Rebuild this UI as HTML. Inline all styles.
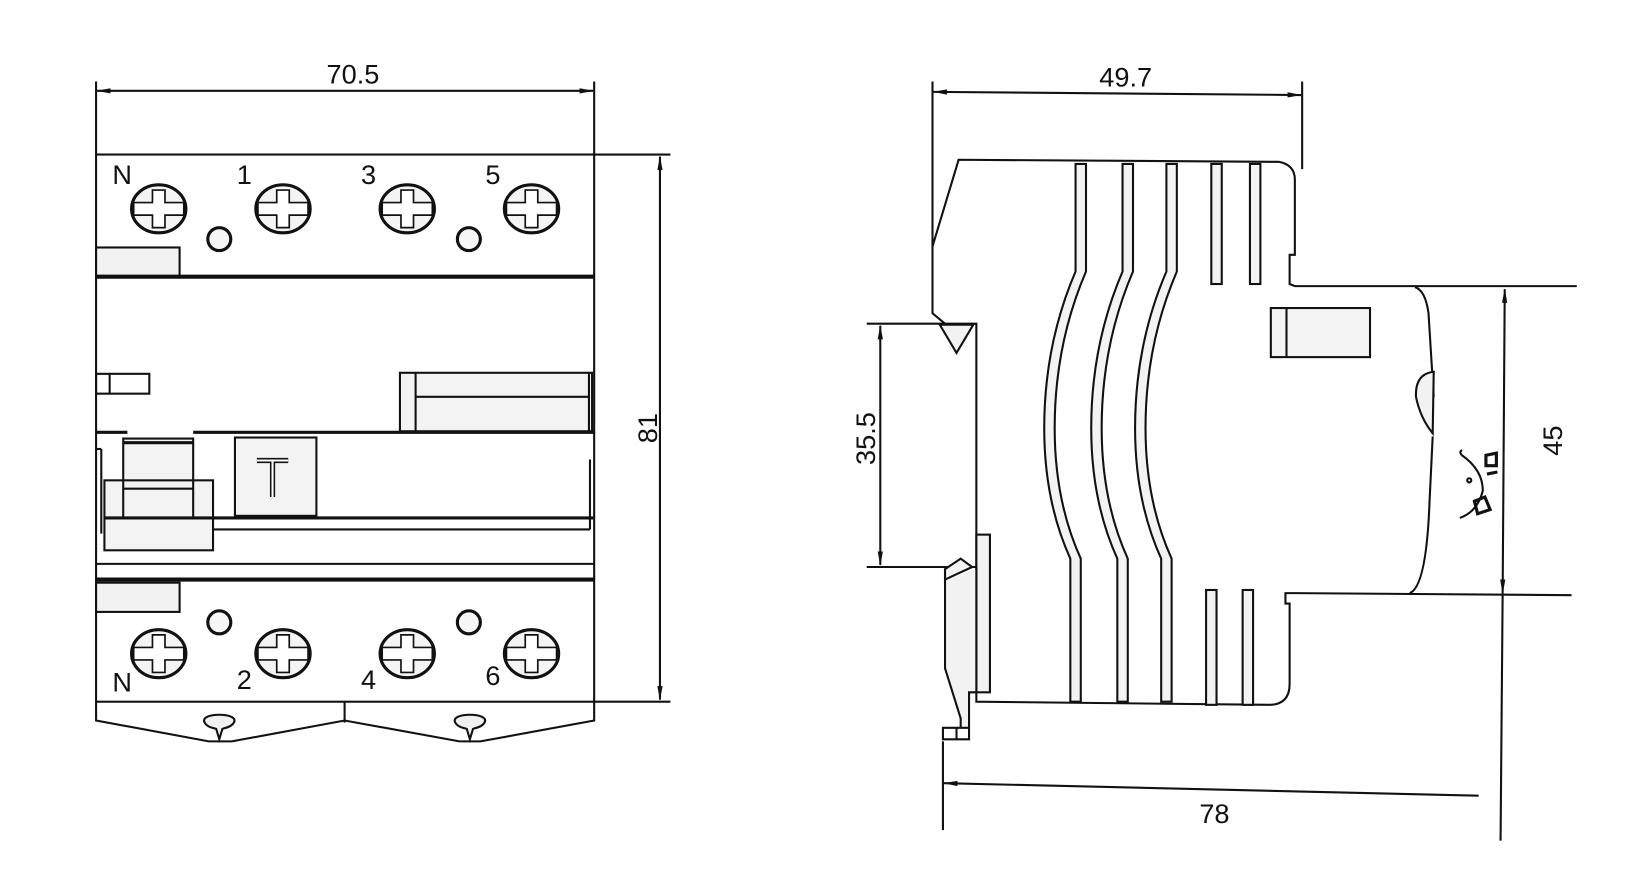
<!DOCTYPE html>
<html><head><meta charset="utf-8"><style>
html,body{margin:0;padding:0;background:#fff;}
svg{display:block;}
text{font-family:"Liberation Sans",sans-serif;fill:#111;}
</style></head><body>
<svg width="1629" height="874" viewBox="0 0 1560 837" preserveAspectRatio="none" xmlns="http://www.w3.org/2000/svg">
<defs>
<marker id="a" markerWidth="14" markerHeight="8" refX="13" refY="4" orient="auto-start-reverse" markerUnits="userSpaceOnUse">
<path d="M0,1.5 L14,4 L0,6.5 Z" fill="#111"/></marker>
</defs>
<g fill="none" stroke="#111" stroke-width="2">
<line x1="92" y1="78" x2="92" y2="148"/>
<line x1="569" y1="78" x2="569" y2="148"/>
<line x1="93" y1="87" x2="568" y2="87" marker-start="url(#a)" marker-end="url(#a)"/>
<line x1="569" y1="148" x2="642" y2="148"/>
<line x1="569" y1="672" x2="642" y2="672"/>
<line x1="632" y1="150" x2="632" y2="670" marker-start="url(#a)" marker-end="url(#a)"/>
<rect x="92" y="148" width="477" height="524"/>
<rect x="92" y="237" width="80" height="28" fill="#f2f2f2"/>
<line x1="92" y1="265" x2="569" y2="265" stroke-width="4"/>
<g stroke-width="3" fill="#f4f4f4">
<ellipse cx="152" cy="200" rx="26" ry="23"/><ellipse cx="271" cy="200" rx="26" ry="23"/>
<ellipse cx="390" cy="200" rx="26" ry="23"/><ellipse cx="509" cy="200" rx="26" ry="23"/>
<ellipse cx="152" cy="626" rx="26" ry="23"/><ellipse cx="271" cy="626" rx="26" ry="23"/>
<ellipse cx="390" cy="626" rx="26" ry="23"/><ellipse cx="509" cy="626" rx="26" ry="23"/>
<ellipse cx="210" cy="229" rx="11" ry="11" fill="#f6f6f6"/><ellipse cx="449" cy="229" rx="11" ry="11" fill="#f6f6f6"/>
<ellipse cx="210" cy="596" rx="11" ry="11" fill="#f6f6f6"/><ellipse cx="449" cy="596" rx="11" ry="11" fill="#f6f6f6"/>
</g>
<g stroke-width="1.6" fill="#fff">
<path id="c" d="M146,182h12v12h18v12h-18v12h-12v-12h-18v-12h18z"/>
<path d="M146,182h12v12h18v12h-18v12h-12v-12h-18v-12h18z" transform="translate(119,0)"/>
<path d="M146,182h12v12h18v12h-18v12h-12v-12h-18v-12h18z" transform="translate(238,0)"/>
<path d="M146,182h12v12h18v12h-18v12h-12v-12h-18v-12h18z" transform="translate(357,0)"/>
<path d="M146,182h12v12h18v12h-18v12h-12v-12h-18v-12h18z" transform="translate(0,426)"/>
<path d="M146,182h12v12h18v12h-18v12h-12v-12h-18v-12h18z" transform="translate(119,426)"/>
<path d="M146,182h12v12h18v12h-18v12h-12v-12h-18v-12h18z" transform="translate(238,426)"/>
<path d="M146,182h12v12h18v12h-18v12h-12v-12h-18v-12h18z" transform="translate(357,426)"/>
</g>
<rect x="92" y="358" width="51" height="19"/><line x1="105" y1="358" x2="105" y2="377"/>
<rect x="383" y="357" width="184" height="56" fill="#f3f3f3"/>
<line x1="398" y1="357" x2="398" y2="413"/><line x1="398" y1="380" x2="564" y2="380"/>
<line x1="564" y1="357" x2="564" y2="413"/>
<line x1="92" y1="414" x2="122" y2="414" stroke-width="3"/>
<line x1="185" y1="414" x2="569" y2="414" stroke-width="3"/>
<rect x="225" y="419" width="78" height="75" fill="#f3f3f3"/>
<path d="M246,441h30M261,441v35" stroke-width="5"/>
<path d="M246,441h30M261,441v35" stroke="#fff" stroke-width="2"/>
<rect x="118" y="420" width="67" height="75" fill="#f3f3f3"/>
<line x1="118" y1="424" x2="185" y2="424" stroke-width="3"/>
<rect x="100" y="460" width="104" height="67" fill="#f3f3f3"/>
<line x1="118" y1="460" x2="118" y2="496"/><line x1="185" y1="460" x2="185" y2="496"/>
<line x1="118" y1="468" x2="185" y2="468"/>
<line x1="100" y1="496" x2="569" y2="496" stroke-width="3"/>
<line x1="204" y1="507" x2="565" y2="507"/>
<line x1="565" y1="440" x2="565" y2="507"/>
<line x1="92" y1="430" x2="97" y2="430"/><line x1="97" y1="430" x2="97" y2="511"/>
<line x1="92" y1="540" x2="569" y2="540"/>
<line x1="92" y1="555" x2="569" y2="555" stroke-width="4"/>
<rect x="92" y="558" width="80" height="28" fill="#f2f2f2"/>
<path d="M92,672 L92,690 L200,710 L222,710 L330,690 L440,710 L460,710 L569,690 L569,672"/>
<line x1="330" y1="672" x2="330" y2="692"/>
<path d="M196,692 C190,682 230,682 224,692 C222,696 216,697 213,698 L210,708 L207,698 C203,697 198,696 196,692Z" fill="#f0f0f0"/>
<path d="M436,692 C430,682 470,682 464,692 C462,696 456,697 453,698 L450,708 L447,698 C443,697 438,696 436,692Z" fill="#f0f0f0"/>

<line x1="893" y1="78" x2="893" y2="236"/>
<line x1="1247" y1="78" x2="1247" y2="162"/>
<line x1="894" y1="88" x2="1246" y2="91" marker-start="url(#a)" marker-end="url(#a)"/>
<path d="M893,236 L918,153 L1225,155 Q1240,158 1240,172 L1240,244 L1235,244 L1235,272 L1240,274 L1510,274"/>
<path d="M893,236 L893,300 L905,310 L830,310"/>
<path d="M905,310 L935,310 L935,543 L830,543"/>
<path d="M900,311 L932,311 L916,338 Z" fill="#f2f2f2"/>
<rect x="935" y="512" width="13" height="151" fill="#f2f2f2"/>
<path d="M906,555 L935,545 L935,663 L928,663 L928,697 L920,697 L920,688 L905,640 Z" fill="#f2f2f2" stroke="none"/>
<path d="M905,545 L905,640 L920,688 L920,697 M935,543 L935,663 L928,663 L928,708 L903,708 L903,697 L928,697" />
<path d="M905,545 L920,535 L931,543 L905,555 Z" fill="#f2f2f2"/>
<line x1="916" y1="697" x2="916" y2="708"/>
<line x1="903" y1="710" x2="903" y2="795"/>
<path d="M935,663 L935,672 L1215,675 Q1235,675 1235,655 L1235,578 L1231,578 L1231,568 L1240,568 L1505,570"/>
<g fill="#f3f3f3">
<path d="M1030,157 L1030,260 Q1000,330 1000,410 Q1000,480 1025,535 L1025,672 L1035,672 L1035,535 Q1010,480 1010,410 Q1010,330 1040,260 L1040,157 Z"/>
<path d="M1075,157 L1075,260 Q1045,330 1045,410 Q1045,480 1070,535 L1070,672 L1080,672 L1080,535 Q1055,480 1055,410 Q1055,330 1085,260 L1085,157 Z"/>
<path d="M1117,157 L1117,260 Q1087,330 1087,410 Q1087,480 1112,535 L1112,672 L1122,672 L1122,535 Q1097,480 1097,410 Q1097,330 1127,260 L1127,157 Z"/>
<rect x="1160" y="157" width="10" height="115"/><rect x="1197" y="157" width="10" height="115"/>
<rect x="1155" y="565" width="10" height="110"/><rect x="1190" y="565" width="10" height="110"/>
<rect x="1217" y="295" width="95" height="47"/>
</g>
<line x1="1232" y1="295" x2="1232" y2="342"/>
<path d="M1355,275 Q1365,278 1368,300 L1373,380 M1372,418 L1369,480 Q1366,562 1350,568"/>
<path d="M1373,356 Q1355,358 1356,380 Q1360,400 1372,415 Z" fill="#f2f2f2"/>
<path d="M1400,436 Q1420,450 1420,470 Q1415,490 1398,496"/>
<path d="M1400,436 q-3,-3 0,-5"/>
<circle cx="1407" cy="460" r="2"/>
<path d="M1423,436 l10,-2 l0,12 l-10,0 z M1424,454 l10,-2" stroke-width="3"/>
<path d="M1412,480 l10,-4 l5,12 l-12,4 z" stroke-width="3"/>
<line x1="843" y1="312" x2="843" y2="541" marker-start="url(#a)" marker-end="url(#a)"/>
<line x1="1441" y1="277" x2="1439" y2="568" marker-start="url(#a)" marker-end="url(#a)"/>
<line x1="1439" y1="568" x2="1437" y2="805"/>
<line x1="904" y1="750" x2="1416" y2="762" marker-start="url(#a)"/>
</g>
<g font-size="26">
<text x="338" y="80" text-anchor="middle">70.5</text>
<text x="1078" y="83" text-anchor="middle">49.7</text>
<text x="1163" y="788" text-anchor="middle">78</text>
<text x="117" y="176" text-anchor="middle">N</text>
<text x="234" y="176" text-anchor="middle">1</text>
<text x="353" y="176" text-anchor="middle">3</text>
<text x="472" y="176" text-anchor="middle">5</text>
<text x="117" y="662" text-anchor="middle">N</text>
<text x="234" y="660" text-anchor="middle">2</text>
<text x="353" y="660" text-anchor="middle">4</text>
<text x="472" y="656" text-anchor="middle">6</text>
<text transform="translate(629,410) rotate(-90)" text-anchor="middle">81</text>
<text transform="translate(838,420) rotate(-90)" text-anchor="middle">35.5</text>
<text transform="translate(1496,422) rotate(-90)" text-anchor="middle">45</text>
</g>
</svg>
</body></html>
